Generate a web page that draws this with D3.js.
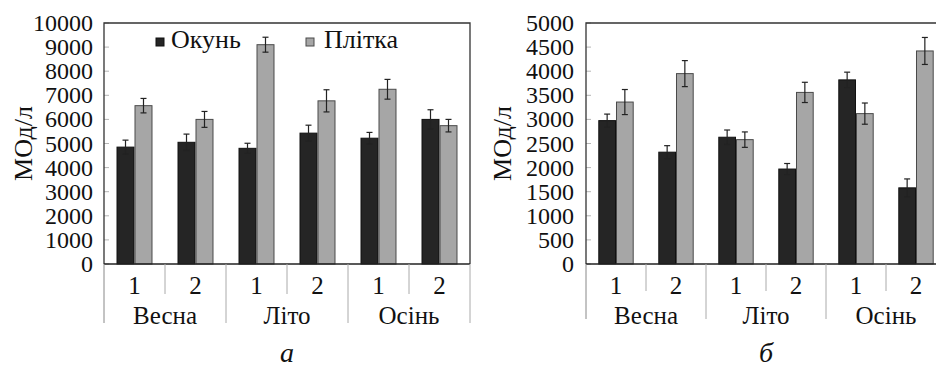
<!DOCTYPE html>
<html>
<head>
<meta charset="utf-8">
<script src="https://cdn.jsdelivr.net/npm/d3@7"></script>
<style>
  html, body { margin: 0; padding: 0; background: #fff; }
</style>
</head>
<body>
<svg id="chart" width="936" height="367"></svg>
<script>
// ---- data ----
const seasons = ["Весна", "Літо", "Осінь"];
const periods = ["1", "2"];
const seriesNames = ["Окунь", "Плітка"];
const categories = ["Весна-1", "Весна-2", "Літо-1", "Літо-2", "Осінь-1", "Осінь-2"];

const okunA = [4850, 5050, 4800, 5430, 5220, 6000];
const okunAErr = [290, 340, 210, 330, 240, 400];
const plitkaA = [6570, 6000, 9100, 6770, 7250, 5740];
const plitkaAErr = [300, 330, 310, 460, 410, 260];

const okunB = [2975, 2320, 2630, 1970, 3820, 1580];
const okunBErr = [135, 135, 150, 115, 160, 185];
const plitkaB = [3360, 3950, 2580, 3560, 3120, 4420];
const plitkaBErr = [260, 270, 160, 210, 220, 280];

const yTicksA = [0, 1000, 2000, 3000, 4000, 5000, 6000, 7000, 8000, 9000, 10000];
const yTicksB = [0, 500, 1000, 1500, 2000, 2500, 3000, 3500, 4000, 4500, 5000];

const yTitle = "МОд/л";
const captions = ["а", "б"];

const colors = ["#252525", "#a6a6a6"];
const strokes = ["#111111", "#4a4a4a"];

const svg = d3.select("#chart");

function txt(sel, size) {
  return sel.style("font-family", "'Liberation Serif'")
    .style("font-size", size + "px").attr("fill", "#111");
}

function drawPanel(opts) {
  const { left, right, top, bottom, yMax, yTicks, s1, e1, s2, e2, caption, legend,
          minorBottom, majorBottom, titleOffset, labelGap } = opts;
  const g = svg.append("g");
  const x0 = d3.scaleBand().domain(categories).range([left, right]).paddingInner(0.41).paddingOuter(0.205);
  const x1 = d3.scaleBand().domain(seriesNames).range([0, x0.bandwidth()]);
  const y = d3.scaleLinear().domain([0, yMax]).range([bottom, top]);

  // faint inner ticks
  g.append("g").selectAll("line").data(yTicks).join("line")
    .attr("x1", left).attr("x2", left + 5)
    .attr("y1", d => y(d)).attr("y2", d => y(d))
    .attr("stroke", "#b5b5b5").attr("stroke-width", 1);

  // y tick labels
  yTicks.forEach(d => {
    txt(svg.append("text"), 24)
      .attr("x", left - labelGap).attr("y", y(d) + 8)
      .attr("text-anchor", "end").text(d);
  });

  // y title
  txt(svg.append("text"), 26)
    .attr("transform", `translate(${left - titleOffset},${(top + bottom) / 2}) rotate(-90)`)
    .attr("text-anchor", "middle").text(yTitle);

  // bars
  const rows = categories.map((c, i) => ({ c, vals: [s1[i], s2[i]], errs: [e1[i], e2[i]] }));
  const grp = g.append("g").selectAll("g").data(rows).join("g")
    .attr("transform", d => `translate(${x0(d.c)},0)`);
  grp.selectAll("rect").data(d => d.vals.map((v, k) => ({ k, v })))
    .join("rect")
    .attr("x", d => x1(seriesNames[d.k]) + 0.5)
    .attr("width", x1.bandwidth() - 1)
    .attr("y", d => y(d.v))
    .attr("height", d => y(0) - y(d.v))
    .attr("fill", d => colors[d.k])
    .attr("stroke", d => strokes[d.k]).attr("stroke-width", 1);

  // error bars
  const eb = grp.selectAll("g.err").data(d => d.vals.map((v, k) => ({ k, v, e: d.errs[k] })))
    .join("g").attr("class", "err")
    .attr("stroke", "#222").attr("stroke-width", 1.2);
  const cx = d => x1(seriesNames[d.k]) + x1.bandwidth() / 2;
  eb.append("line").attr("x1", cx).attr("x2", cx)
    .attr("y1", d => y(d.v + d.e)).attr("y2", d => y(d.v - d.e));
  eb.append("line").attr("x1", d => cx(d) - 3).attr("x2", d => cx(d) + 3)
    .attr("y1", d => y(d.v + d.e)).attr("y2", d => y(d.v + d.e));
  eb.append("line").attr("x1", d => cx(d) - 3).attr("x2", d => cx(d) + 3)
    .attr("y1", d => y(d.v - d.e)).attr("y2", d => y(d.v - d.e));

  // frame
  g.append("path")
    .attr("d", `M${left},${bottom}V${top}H${right}V${bottom}`)
    .attr("fill", "none").attr("stroke", "#333").attr("stroke-width", 1.3);
  g.append("line").attr("x1", left).attr("x2", right).attr("y1", bottom).attr("y2", bottom)
    .attr("stroke", "#222").attr("stroke-width", 1.6);

  // category separators below axis
  const step = x0.step();
  const seps = d3.range(categories.length + 1);
  g.append("g").selectAll("line").data(seps).join("line")
    .attr("x1", i => left + i * step).attr("x2", i => left + i * step)
    .attr("y1", bottom)
    .attr("y2", i => (i % 2 === 0 ? majorBottom : minorBottom))
    .attr("stroke", i => (i === 0 ? "#888" : "#aaa")).attr("stroke-width", 1);

  // period labels
  categories.forEach((c, i) => {
    txt(svg.append("text"), 25)
      .attr("x", x0(c) + x0.bandwidth() / 2).attr("y", bottom + 30)
      .attr("text-anchor", "middle").text(periods[i % 2]);
  });

  // season labels
  seasons.forEach((s, i) => {
    txt(svg.append("text"), 25)
      .attr("x", left + (i * 2 + 1) * step).attr("y", bottom + 60)
      .attr("text-anchor", "middle").text(s);
  });

  // caption
  txt(svg.append("text"), 28)
    .attr("x", (left + right) / 2).attr("y", 362)
    .attr("text-anchor", "middle").style("font-style", "italic")
    .text(caption);

  if (legend) {
    const items = [{ x: 156, tx: 171 }, { x: 306, tx: 324 }];
    items.forEach((it, k) => {
      g.append("rect").attr("x", it.x).attr("y", 38).attr("width", 8).attr("height", 8)
        .attr("fill", colors[k]).attr("stroke", strokes[k]).attr("stroke-width", 1);
      txt(svg.append("text"), 26).attr("x", it.tx).attr("y", 48).text(seriesNames[k]);
    });
  }
}

drawPanel({ left: 104, right: 470, top: 23, bottom: 264, yMax: 10000, yTicks: yTicksA,
  s1: okunA, e1: okunAErr, s2: plitkaA, e2: plitkaAErr, caption: captions[0], legend: true,
  minorBottom: 294, majorBottom: 323, titleOffset: 72, labelGap: 11 });
drawPanel({ left: 586, right: 946, top: 23, bottom: 264, yMax: 5000, yTicks: yTicksB,
  s1: okunB, e1: okunBErr, s2: plitkaB, e2: plitkaBErr, caption: captions[1], legend: false,
  minorBottom: 291, majorBottom: 319, titleOffset: 75, labelGap: 12 });

svg.selectAll("text").each(function () { this.getComputedTextLength(); });
</script>
</body>
</html>
